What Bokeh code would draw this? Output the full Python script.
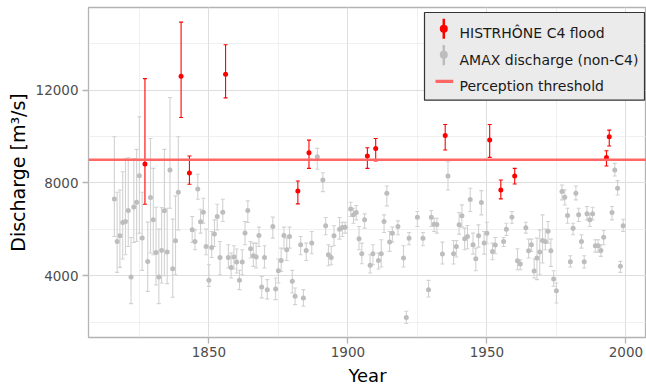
from bokeh.plotting import figure
from bokeh.models import Range1d, SingleIntervalTicker, ColumnDataSource, Whisker, TeeHead, Span
from bokeh.embed import file_html
from bokeh.resources import INLINE
from bokeh.core.properties import value

FONT = "DejaVu Sans"

# HISTRHÔNE C4 floods: year, discharge estimate and its interval (m3/s)
c4_year = [1827, 1840, 1843, 1856, 1882, 1886, 1907, 1910, 1935, 1951, 1955, 1960, 1993, 1994]
c4_q = [8817, 12602, 8430, 12688, 7656, 9305, 9161, 9491, 10050, 9850, 7699, 8305, 9095, 9993]
c4_lo = [7084, 10825, 7943, 11669, 7097, 8631, 8631, 8946, 9419, 9104, 7312, 7957, 8731, 9592]
c4_hi = [12503, 14938, 9161, 13966, 8086, 9849, 9520, 9921, 10523, 10523, 8129, 8631, 9391, 10280]

# Annual maximum discharge in the other years
amax_year = [
    1816, 1817, 1818, 1819, 1820, 1821, 1822, 1823, 1824, 1825, 1826, 1828, 1829, 1830,
    1831, 1832, 1833, 1834, 1835, 1836, 1837, 1838, 1839, 1844, 1845, 1846, 1847, 1848,
    1849, 1850, 1851, 1852, 1853, 1854, 1855, 1857, 1858, 1859, 1860, 1861, 1862, 1863,
    1864, 1865, 1866, 1867, 1868, 1869, 1870, 1871, 1873, 1874, 1875, 1876, 1877, 1878,
    1879, 1880, 1881, 1883, 1884, 1885, 1887, 1889, 1891, 1892, 1893, 1894, 1895, 1897,
    1898, 1899, 1901, 1902, 1903, 1904, 1905, 1906, 1908, 1909, 1911, 1912, 1913, 1914,
    1915, 1916, 1918, 1920, 1921, 1922, 1925, 1927, 1929, 1930, 1931, 1932, 1934, 1936,
    1938, 1939, 1940, 1941, 1942, 1943, 1944, 1945, 1946, 1947, 1948, 1949, 1950, 1952,
    1953, 1956, 1957, 1959, 1961, 1962, 1964, 1965, 1966, 1967, 1968, 1969, 1970, 1971,
    1972, 1973, 1974, 1975, 1977, 1978, 1979, 1980, 1981, 1982, 1983, 1984, 1985, 1986,
    1987, 1988, 1989, 1990, 1991, 1992, 1995, 1996, 1997, 1998, 1999,
]
amax_q = [
    7312, 5476, 5720, 6293, 6336, 6810, 3944, 6968, 7170, 8315, 5621, 4616, 7369, 6409,
    5003, 3944, 5089, 6796, 5019, 8559, 4301, 5505, 7600, 5978, 5476, 7742, 6323, 6739,
    5261, 3798, 5218, 5793, 6551, 4787, 6739, 4787, 4357, 4804, 4589, 3798, 4589, 5836,
    6810, 5161, 4860, 4804, 5734, 3514, 4787, 3398, 6121, 3428, 4215, 4658, 5734, 5118,
    5691, 3755, 3110, 5333, 3041, 5089, 5406, 9133, 8129, 6151, 4903, 4789, 5720, 6007,
    6079, 6093, 6882, 6624, 6724, 5591, 4946, 6409, 4445, 4946, 4660, 4946, 6337, 7556,
    5448, 5835, 6122, 4760, 2194, 5620, 6523, 5620, 3398, 6523, 6222, 6208, 4932, 8301,
    4946, 5262, 6194, 6581, 5591, 5692, 7283, 5333, 4731, 5720, 7154, 5405, 5835, 5047,
    5319, 5477, 6007, 6523, 4645, 4502, 6065, 5075, 5333, 4201, 4760, 5018, 5520, 5477,
    5921, 5075, 3857, 3355, 7627, 7383, 6595, 4602, 6050, 7556, 6624, 5477, 4602, 6667,
    6409, 6667, 5290, 5290, 5090, 5663, 6724, 8559, 7771, 4402, 6151,
]
amax_lo = [
    5691, 4142, 4357, 4718, 4903, 5261, 2796, 5432, 5476, 5836, 4228, 3325, 4976, 4900,
    3600, 2796, 3686, 4000, 3656, 6910, 3067, 4043, 5978, 5432, 5118, 7298, 5836, 6267,
    4903, 3540, 4787, 5261, 5978, 4043, 6336, 4330, 3901, 4288, 4116, 3398, 4043, 5333,
    6293, 4761, 4402, 4330, 5261, 3041, 4330, 2998, 5621, 2968, 3686, 4185, 5148, 4658,
    5191, 3256, 2753, 4903, 2680, 4658, 4946, 8589, 7627, 5763, 4430, 4473, 5290, 5577,
    5692, 5835, 6552, 6265, 6409, 5118, 4516, 6050, 4115, 4473, 4287, 4373, 5864, 7011,
    5047, 5448, 5763, 4373, 1936, 5333, 6122, 5290, 3082, 6122, 5907, 5835, 4502, 7699,
    4502, 4803, 5792, 6093, 5118, 5161, 6767, 4932, 4215, 5233, 6624, 4932, 5376, 4688,
    4946, 5262, 5735, 6265, 4258, 4258, 5835, 4760, 5047, 3900, 3828, 4043, 4545, 5118,
    5405, 4402, 3541, 2824, 7269, 7050, 6265, 4373, 5763, 7269, 6337, 5190, 4330, 6409,
    6122, 6409, 5018, 5018, 4832, 5333, 6409, 8301, 7484, 4144, 5907,
]
amax_hi = [
    9992, 7600, 7699, 8486, 9040, 9090, 5648, 9050, 9448, 10852, 7600, 6309, 9921, 8630,
    6950, 6009, 6938, 9448, 6910, 11685, 6439, 7441, 9992, 6551, 5978, 8373, 6868, 7341,
    6009, 4473, 5906, 6409, 7084, 5476, 7298, 5333, 4976, 5290, 5148, 4228, 5118, 6336,
    7226, 5476, 5405, 5405, 6095, 3970, 5290, 3828, 6525, 3901, 4718, 5191, 6095, 5621,
    6095, 4228, 3471, 5691, 3398, 5406, 5906, 9491, 8443, 6509, 5333, 5262, 6151, 6509,
    6308, 6308, 7169, 6910, 7025, 6122, 5405, 6667, 4903, 5333, 4975, 5549, 6624, 7871,
    5907, 6093, 6366, 5290, 2466, 5864, 6767, 5864, 3799, 6810, 6480, 6480, 5448, 8918,
    5520, 5520, 6724, 7054, 6050, 6165, 7771, 5835, 5190, 6194, 7670, 5907, 6308, 5405,
    5649, 5649, 6265, 6767, 5161, 4688, 6308, 5577, 5577, 4717, 5620, 5978, 6624, 6007,
    6337, 5577, 4215, 3685, 7914, 7700, 6910, 4860, 6265, 7871, 6910, 5763, 4860, 6982,
    6667, 6954, 5549, 5549, 5333, 5950, 6982, 8846, 8100, 4617, 6437,
]

threshold = 9000

legend_labels = ["HISTRHÔNE C4 flood", "AMAX discharge (non-C4)", "Perception threshold"]

RED = "#ff0000"
GREY_PT = "#bdbdbd"
GREY_BAR = "#d2d2d2"
THRESH = "#ff6666"

p = figure(
    width=646, height=388, output_backend="svg", toolbar_location=None,
    x_range=Range1d(1806.7, 2007.4), y_range=Range1d(1333, 15570),
    min_border_left=88, min_border_right=0, min_border_top=7, min_border_bottom=50,
    background_fill_color="white", border_fill_color="white",
)
p.outline_line_color = "#b3b3b3"
p.outline_line_width = 1.3

p.xaxis.ticker = SingleIntervalTicker(interval=50, num_minor_ticks=2)
p.yaxis.ticker = SingleIntervalTicker(interval=4000, num_minor_ticks=2)
for ax in (p.xaxis[0], p.yaxis[0]):
    ax.axis_line_color = None
    ax.major_tick_line_color = "#b3b3b3"
    ax.major_tick_line_width = 1.3
    ax.major_tick_out = 6
    ax.major_tick_in = 0
    ax.minor_tick_out = 0
    ax.minor_tick_in = 0
    ax.major_label_text_font = FONT
    ax.major_label_text_font_size = "13.5px"
    ax.major_label_text_color = "#4d4d4d"
    ax.axis_label_text_font = FONT
    ax.axis_label_text_font_style = "normal"
    ax.axis_label_text_color = "#000000"
p.xaxis.axis_label_text_font_size = "18px"
p.yaxis.axis_label_text_font_size = "19px"
p.xaxis.major_label_standoff = 3
p.yaxis.major_label_standoff = 4
p.xaxis.axis_label = "Year"
p.yaxis.axis_label = "Discharge [m³/s]"
p.xaxis.axis_label_standoff = 5
p.yaxis.axis_label_standoff = 4

for g in (p.xgrid[0], p.ygrid[0]):
    g.grid_line_color = "#dedede"
    g.grid_line_width = 1.0
    g.minor_grid_line_color = "#e6e6e6"
    g.minor_grid_line_width = 0.6

amax = ColumnDataSource(dict(year=amax_year, q=amax_q, lo=amax_lo, hi=amax_hi))
c4 = ColumnDataSource(dict(year=c4_year, q=c4_q, lo=c4_lo, hi=c4_hi))

# error bars
for src, col in ((amax, GREY_BAR), (c4, RED)):
    w = Whisker(
        source=src, base="year", lower="lo", upper="hi", dimension="height",
        line_color=col, line_width=1.1, level="underlay",
        upper_head=TeeHead(size=4, line_color=col, line_width=1.1),
        lower_head=TeeHead(size=4, line_color=col, line_width=1.1),
    )
    p.add_layout(w)

p.scatter("year", "q", source=amax, size=5, color=GREY_PT, line_width=0)
p.add_layout(Span(location=threshold, dimension="width", line_color=THRESH, line_width=2.5))
p.scatter("year", "q", source=c4, size=5, color=RED, line_width=0)

# legend, laid out in frame pixels (origin at the top-left corner of the frame)
p.extra_x_ranges = {"px": Range1d(0, 558)}
p.extra_y_ranges = {"px": Range1d(331, 0)}
kw = dict(x_range_name="px", y_range_name="px")
p.quad(left=[336], right=[556], top=[5], bottom=[93], fill_color="#ebebeb",
       line_color="#333333", line_width=1.2, **kw)
p.segment(x0=[355.3], x1=[355.3], y0=[11.3], y1=[31.3], line_color=RED, line_width=2.5, **kw)
p.scatter(x=[355.3], y=[21.3], size=8, color=RED, line_width=0, **kw)
p.segment(x0=[355.3], x1=[355.3], y0=[37.5], y1=[58], line_color=GREY_PT, line_width=2.5, **kw)
p.scatter(x=[355.3], y=[47.5], size=8, color=GREY_PT, line_width=0, **kw)
p.segment(x0=[347], x1=[364.7], y0=[74], y1=[74], line_color=THRESH, line_width=3.3, **kw)
p.text(x=[371, 371, 371], y=[25.7, 53, 79], text=legend_labels,
       text_font=value(FONT), text_font_size="14px", text_baseline="alphabetic",
       text_color="#1a1a1a", **kw)

open("out.html", "w").write(file_html(p, INLINE))
